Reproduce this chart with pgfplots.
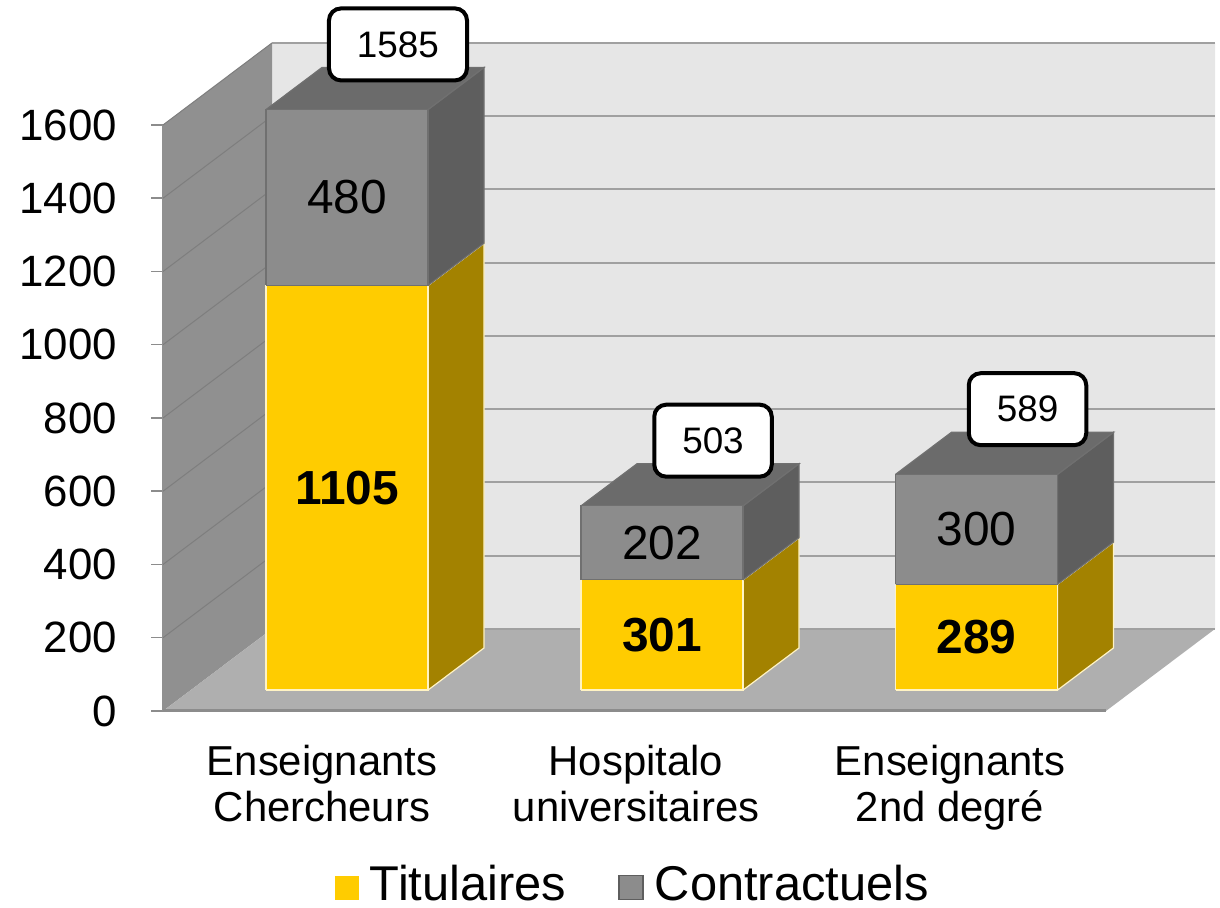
\documentclass[border=0pt]{standalone}
\usepackage{pgfplots}
\pgfplotsset{compat=1.18}
\usepackage{pgfplotstable}
\usepackage{fontspec}
\setmainfont{Liberation Sans}
\definecolor{yfront}{HTML}{FFCC00}
\definecolor{yside}{HTML}{A38200}
\definecolor{ytop}{HTML}{B89500}
\definecolor{yedge}{HTML}{FFF3C4}
\definecolor{gfront}{HTML}{8C8C8C}
\definecolor{gside}{HTML}{5E5E5E}
\definecolor{gtop}{HTML}{6B6B6B}
\definecolor{gedge}{HTML}{707070}
\definecolor{backwall}{HTML}{E6E6E6}
\definecolor{leftwall}{HTML}{909090}
\definecolor{floorc}{HTML}{AFAFAF}
\definecolor{gridc}{HTML}{A0A0A0}
\definecolor{lgridc}{HTML}{7E7E7E}
\definecolor{axisc}{HTML}{8C8C8C}

\pgfplotstableread{
x tit con tot
347 1105 480 1585
662 301 202 503
976.5 289 300 589
}\data

% cuboid: #1 centre x, #2 base value, #3 segment value, #4 front, #5 side, #6 top, #7 edge
\newcommand\cuboid[7]{%
  \pgfmathsetmacro\xl{#1-81}\pgfmathsetmacro\xr{#1+81}%
  \pgfmathsetmacro\xlr{#1-81+56}\pgfmathsetmacro\xrr{#1+81+56}%
  \pgfmathsetmacro\yb{#2+57}\pgfmathsetmacro\yt{#2+#3+57}%
  \pgfmathsetmacro\ybr{#2+57+115}\pgfmathsetmacro\ytr{#2+#3+57+115}%
  \edef\doit{%
    \noexpand\addplot[forget plot, fill=#5, draw=#7, line width=0.6bp] coordinates {(\xr,\yb) (\xrr,\ybr) (\xrr,\ytr) (\xr,\yt) (\xr,\yb)};
    \noexpand\addplot[forget plot, fill=#6, draw=#7, line width=0.6bp] coordinates {(\xl,\yt) (\xr,\yt) (\xrr,\ytr) (\xlr,\ytr) (\xl,\yt)};
    \noexpand\addplot[forget plot, fill=#4, draw=#7, line width=0.6bp] coordinates {(\xl,\yb) (\xr,\yb) (\xr,\yt) (\xl,\yt) (\xl,\yb)};
  }\doit
}

\begin{document}
\begin{tikzpicture}
\begin{axis}[
  x=0.5bp, y=0.183125bp,
  xmin=163, xmax=1106, ymin=0, ymax=1600,
  clip=false, axis on top,
  axis x line*=bottom, axis y line*=left,
  x axis line style={draw=axisc, line width=1.5bp},
  y axis line style={draw=leftwall, line width=0.5bp},
  ytick={0,200,...,1600},
  ytick style={draw=axisc, line width=0.75bp},
  tick align=outside, major tick length=6bp,
  xtick={322,636,950},
  xticklabels={Enseignants\\Chercheurs, Hospitalo\\universitaires, Enseignants\\2nd degré},
  xtick style={draw=none},
  xticklabel style={align=center, font=\fontsize{21}{23}\selectfont, yshift=-7.5bp},
  yticklabel style={font=\fontsize{22}{24}\selectfont, xshift=-13.5bp},
  /pgf/number format/assume math mode=true,
  /pgf/number format/1000 sep={},
  legend columns=2,
  legend style={draw=none, fill=none, at={(0.4995,-0.296)}, anchor=center,
    font=\fontsize{24.5}{27}\selectfont,
    /tikz/every odd column/.append style={column sep=3.5bp},
    /tikz/every even column/.append style={column sep=24bp}},
]
% walls and floor
\addplot[forget plot, fill=backwall, draw=none] coordinates {(272,224) (1215,224) (1215,1824) (272,1824) (272,224)};
\addplot[forget plot, fill=leftwall, draw=none] coordinates {(163,0) (272,224) (272,1824) (163,1600) (163,0)};
\addplot[forget plot, fill=floorc, draw=none] coordinates {(163,0) (1106,0) (1215,224) (272,224) (163,0)};
% grid lines on left and back walls
\addplot[forget plot, draw=lgridc, line width=0.5bp] coordinates {(163,200) (272,424)};
\addplot[forget plot, draw=lgridc, line width=0.5bp] coordinates {(163,400) (272,624)};
\addplot[forget plot, draw=lgridc, line width=0.5bp] coordinates {(163,600) (272,824)};
\addplot[forget plot, draw=lgridc, line width=0.5bp] coordinates {(163,800) (272,1024)};
\addplot[forget plot, draw=lgridc, line width=0.5bp] coordinates {(163,1000) (272,1224)};
\addplot[forget plot, draw=lgridc, line width=0.5bp] coordinates {(163,1200) (272,1424)};
\addplot[forget plot, draw=lgridc, line width=0.5bp] coordinates {(163,1400) (272,1624)};
\addplot[forget plot, draw=lgridc, line width=0.5bp] coordinates {(163,1600) (272,1824)};
\addplot[forget plot, draw=gridc, line width=1bp] coordinates {(272,424) (1215,424)};
\addplot[forget plot, draw=gridc, line width=1bp] coordinates {(272,624) (1215,624)};
\addplot[forget plot, draw=gridc, line width=1bp] coordinates {(272,824) (1215,824)};
\addplot[forget plot, draw=gridc, line width=1bp] coordinates {(272,1024) (1215,1024)};
\addplot[forget plot, draw=gridc, line width=1bp] coordinates {(272,1224) (1215,1224)};
\addplot[forget plot, draw=gridc, line width=1bp] coordinates {(272,1424) (1215,1424)};
\addplot[forget plot, draw=gridc, line width=1bp] coordinates {(272,1624) (1215,1624)};
\addplot[forget plot, draw=gridc, line width=1bp] coordinates {(272,1824) (1215,1824)};
\addplot[forget plot, draw=gridc, line width=1bp] coordinates {(272,224) (1215,224)};
% bars
\cuboid{347}{0}{1105}{yfront}{yside}{ytop}{yedge}
\cuboid{347}{1105}{480}{gfront}{gside}{gtop}{gedge}
\cuboid{662}{0}{301}{yfront}{yside}{ytop}{yedge}
\cuboid{662}{301}{202}{gfront}{gside}{gtop}{gedge}
\cuboid{976.5}{0}{289}{yfront}{yside}{ytop}{yedge}
\cuboid{976.5}{289}{300}{gfront}{gside}{gtop}{gedge}
% value labels
\addplot[forget plot, draw=none, mark=none, nodes near coords, nodes near coords align={center},
  point meta=explicit symbolic,
  nodes near coords style={anchor=center, text=black, font=\bfseries\fontsize{24}{26}\selectfont}]
  table[x=x, y expr=\thisrow{tit}/2+57, meta=tit] {\data};
\addplot[forget plot, draw=none, mark=none, nodes near coords, nodes near coords align={center},
  point meta=explicit symbolic,
  nodes near coords style={anchor=center, text=black, font=\fontsize{24}{26}\selectfont}]
  table[x=x, y expr=\thisrow{tit}+\thisrow{con}/2+57, meta=con] {\data};
\addplot[forget plot, draw=none, mark=none, nodes near coords, nodes near coords align={center},
  point meta=explicit symbolic,
  nodes near coords style={anchor=center, text=black, draw=black, fill=white, line width=2bp,
    rounded corners=6bp, minimum height=36bp, inner xsep=14bp, font=\fontsize{18.5}{20}\selectfont}]
  table[x expr=\thisrow{x}+51, y expr=\thisrow{tot}+235, meta=tot] {\data};
% legend
\addlegendimage{legend image code/.code={\fill[yfront] (0bp,-7.5bp) rectangle (11.5bp,4bp);}}
\addlegendentry{Titulaires}
\addlegendimage{legend image code/.code={\filldraw[fill=gfront, draw=gside, line width=0.8bp] (0bp,-7.5bp) rectangle (12bp,4.5bp);}}
\addlegendentry{Contractuels}
\coordinate (bbsw) at (axis cs:0,-537.9);
\coordinate (bbne) at (axis cs:1220,1941.3);
\end{axis}
\pgfresetboundingbox
\path[use as bounding box] (bbsw) rectangle (bbne);
\end{tikzpicture}
\end{document}
